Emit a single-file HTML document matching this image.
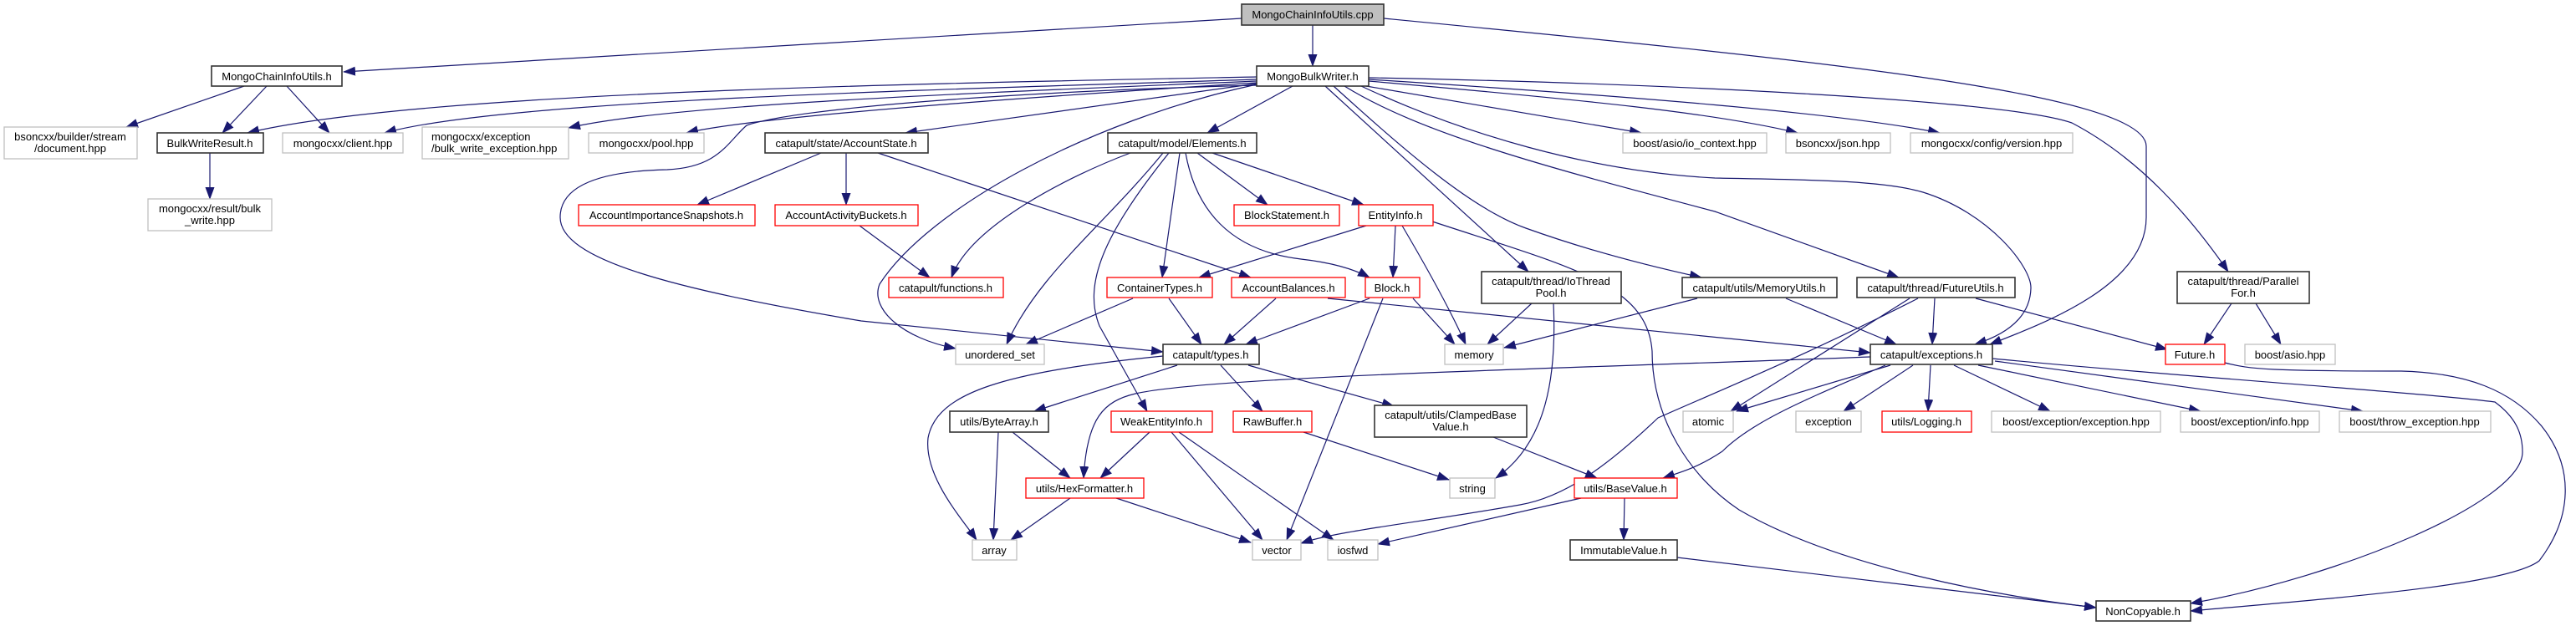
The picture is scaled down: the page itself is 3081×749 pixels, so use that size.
<!DOCTYPE html>
<html><head><meta charset="utf-8"><style>
html,body{margin:0;padding:0;background:#fff;}
svg{display:block;}
text{font-family:"Liberation Sans",Arial,sans-serif;font-size:13px;fill:#000;text-anchor:middle;}
.b{fill:#fff;stroke:#333;stroke-width:1.6;}
.g{fill:#fff;stroke:#bfbfbf;stroke-width:1.3;}
.r{fill:#fff;stroke:#ff0000;stroke-width:1.3;}
.c{fill:#bfbfbf;stroke:#333;stroke-width:1.6;}
path.e{fill:none;stroke:#191970;stroke-width:1.2;marker-end:url(#a);}
</style></head><body>
<svg width="3081" height="749" viewBox="0 0 3081 749" xmlns="http://www.w3.org/2000/svg">
<defs><marker id="a" markerWidth="15" markerHeight="11" refX="14" refY="5.5" orient="auto" markerUnits="userSpaceOnUse"><path d="M0,0 L15,5.5 L0,11 z" fill="#191970"/></marker></defs>
<g>
<path class="e" d="M1485,22 L411,86"/>
<path class="e" d="M1570,30 L1570,79"/>
<path class="e" d="M1655,22 C2150,70 2567,110 2567,175 L2567,260 C2567,340 2450,385 2380,412"/>
<path class="e" d="M292,103 L151,152"/>
<path class="e" d="M319,103 L266,159"/>
<path class="e" d="M343,103 L394,159"/>
<path class="e" d="M251,183 L251,238"/>
<path class="e" d="M1503,92 C1100,100 500,110 296,159"/>
<path class="e" d="M1503,95 C1100,108 600,120 460,159"/>
<path class="e" d="M1503,97 C1150,112 800,125 680,153"/>
<path class="e" d="M1503,99 C1200,118 900,140 821,159"/>
<path class="e" d="M1503,100 L1083,159"/>
<path class="e" d="M1503,101 C1300,145 1110,250 1052,340 C1040,370 1080,405 1143,417"/>
<path class="e" d="M1503,102 C1200,110 950,130 893,150 C870,170 860,200 798,203 C700,205 670,230 670,260 C670,310 800,345 1030,384 L1391,421"/>
<path class="e" d="M1546,103 L1444,159"/>
<path class="e" d="M1585,103 L1828,325"/>
<path class="e" d="M1595,103 C1680,180 1760,250 1825,273 C1900,300 1980,320 2035,332"/>
<path class="e" d="M1608,103 C1700,160 1850,200 2051,253 L2271,332"/>
<path class="e" d="M1628,103 C1750,160 1900,205 2051,213 C2150,215 2250,215 2300,230 C2380,255 2430,320 2429,345 C2428,380 2400,400 2362,412"/>
<path class="e" d="M1634,103 L1963,159"/>
<path class="e" d="M1637,97 C1900,120 2050,135 2150,159"/>
<path class="e" d="M1637,95 C1950,115 2200,135 2320,159"/>
<path class="e" d="M1637,93 C2000,100 2400,120 2478,147 C2560,190 2620,260 2665,325"/>
<path class="e" d="M1352,183 C1280,210 1160,270 1138,332"/>
<path class="e" d="M1391,183 C1320,270 1240,330 1204,412"/>
<path class="e" d="M1398,183 C1320,280 1295,340 1315,390 L1372,492"/>
<path class="e" d="M1411,183 L1390,332"/>
<path class="e" d="M1418,183 C1430,250 1470,300 1556,310 C1600,315 1625,325 1638,332"/>
<path class="e" d="M1432,183 L1516,245"/>
<path class="e" d="M1450,183 L1631,245"/>
<path class="e" d="M982,183 L834,245"/>
<path class="e" d="M1012,183 L1012,245"/>
<path class="e" d="M1050,183 L1496,332"/>
<path class="e" d="M1028,270 L1112,332"/>
<path class="e" d="M1634,270 L1434,332"/>
<path class="e" d="M1669,270 L1666,332"/>
<path class="e" d="M1677,270 Q1730,360 1753,412"/>
<path class="e" d="M1713,265 C1880,320 1970,340 1976,420 C1976,500 2020,570 2080,610 C2200,680 2400,715 2507,727"/>
<path class="e" d="M1638,357 L1490,412"/>
<path class="e" d="M1654,357 L1539,646"/>
<path class="e" d="M1690,357 L1740,412"/>
<path class="e" d="M1355,357 L1227,412"/>
<path class="e" d="M1398,357 L1437,412"/>
<path class="e" d="M1526,357 L1464,412"/>
<path class="e" d="M1588,357 L2237,422"/>
<path class="e" d="M1832,363 L1779,412"/>
<path class="e" d="M1858,363 C1862,450 1850,530 1789,572"/>
<path class="e" d="M2030,357 L1799,416"/>
<path class="e" d="M2136,357 L2268,412"/>
<path class="e" d="M2284,357 L2070,492"/>
<path class="e" d="M2294,357 C2150,430 2050,470 1983,500 C1920,560 1870,595 1818,604 C1700,625 1600,635 1556,650"/>
<path class="e" d="M2314,357 L2311,412"/>
<path class="e" d="M2363,357 L2592,418"/>
<path class="e" d="M2669,363 L2636,412"/>
<path class="e" d="M2698,363 L2728,412"/>
<path class="e" d="M2661,434 C2690,442 2720,444 2872,444 C2950,446 3004,467 3040,510 C3080,560 3076,620 3037,671 C3000,700 2800,715 2620,731"/>
<path class="e" d="M2383,429 C2600,450 2900,470 2984,481 C3010,500 3017,520 3017,541 C3017,600 2800,690 2620,722"/>
<path class="e" d="M2386,432 L2826,492"/>
<path class="e" d="M2366,437 L2632,492"/>
<path class="e" d="M2337,437 L2452,492"/>
<path class="e" d="M2309,437 L2306,492"/>
<path class="e" d="M2288,437 L2205,492"/>
<path class="e" d="M2261,437 L2077,492"/>
<path class="e" d="M2255,437 C2180,470 2100,500 2060,540 C2030,560 2010,565 1989,572"/>
<path class="e" d="M2237,427 C1900,440 1450,450 1358,471 C1320,480 1300,500 1296,572"/>
<path class="e" d="M1391,426 C1200,445 1120,470 1110,524 C1105,570 1150,620 1168,646"/>
<path class="e" d="M1408,437 L1237,492"/>
<path class="e" d="M1460,437 L1510,492"/>
<path class="e" d="M1493,437 L1667,486"/>
<path class="e" d="M1194,517 L1188,646"/>
<path class="e" d="M1211,517 L1280,572"/>
<path class="e" d="M1375,517 L1316,572"/>
<path class="e" d="M1401,517 L1510,646"/>
<path class="e" d="M1410,517 L1595,646"/>
<path class="e" d="M1559,517 L1733,574"/>
<path class="e" d="M1786,523 L1910,572"/>
<path class="e" d="M1280,596 L1209,646"/>
<path class="e" d="M1335,596 L1496,649"/>
<path class="e" d="M1891,596 L1648,651"/>
<path class="e" d="M1943,596 L1942,646"/>
<path class="e" d="M2006,667 L2507,727"/>
</g>
<g>
<rect class="c" x="1485" y="5" width="170" height="25"/><text x="1570" y="22">MongoChainInfoUtils.cpp</text>
<rect class="b" x="253" y="79" width="156" height="24"/><text x="331" y="96">MongoChainInfoUtils.h</text>
<rect class="b" x="1503" y="79" width="134" height="24"/><text x="1570" y="96">MongoBulkWriter.h</text>
<rect class="g" x="5" y="152" width="159" height="38"/><text x="84" y="168">bsoncxx/builder/stream</text><text x="84" y="182">/document.hpp</text>
<rect class="b" x="188" y="159" width="127" height="24"/><text x="251" y="176">BulkWriteResult.h</text>
<rect class="g" x="338" y="159" width="144" height="24"/><text x="410" y="176">mongocxx/client.hpp</text>
<rect class="g" x="505" y="152" width="175" height="38"/><text x="516" y="168" style="text-anchor:start">mongocxx/exception</text><text x="516" y="182" style="text-anchor:start">/bulk_write_exception.hpp</text>
<rect class="g" x="704" y="159" width="138" height="24"/><text x="773" y="176">mongocxx/pool.hpp</text>
<rect class="b" x="915" y="159" width="195" height="24"/><text x="1012" y="176">catapult/state/AccountState.h</text>
<rect class="b" x="1325" y="159" width="178" height="24"/><text x="1414" y="176">catapult/model/Elements.h</text>
<rect class="g" x="1941" y="159" width="172" height="24"/><text x="2027" y="176">boost/asio/io_context.hpp</text>
<rect class="g" x="2136" y="159" width="125" height="24"/><text x="2198" y="176">bsoncxx/json.hpp</text>
<rect class="g" x="2285" y="159" width="194" height="24"/><text x="2382" y="176">mongocxx/config/version.hpp</text>
<rect class="g" x="177" y="238" width="148" height="38"/><text x="251" y="254">mongocxx/result/bulk</text><text x="251" y="268">_write.hpp</text>
<rect class="r" x="692" y="245" width="211" height="25"/><text x="797" y="262">AccountImportanceSnapshots.h</text>
<rect class="r" x="927" y="245" width="171" height="25"/><text x="1012" y="262">AccountActivityBuckets.h</text>
<rect class="r" x="1476" y="245" width="126" height="25"/><text x="1539" y="262">BlockStatement.h</text>
<rect class="r" x="1625" y="245" width="89" height="25"/><text x="1669" y="262">EntityInfo.h</text>
<rect class="r" x="1063" y="332" width="137" height="24"/><text x="1131" y="349">catapult/functions.h</text>
<rect class="r" x="1324" y="332" width="126" height="24"/><text x="1387" y="349">ContainerTypes.h</text>
<rect class="r" x="1473" y="332" width="136" height="24"/><text x="1541" y="349">AccountBalances.h</text>
<rect class="r" x="1633" y="332" width="65" height="24"/><text x="1665" y="349">Block.h</text>
<rect class="b" x="1772" y="325" width="167" height="38"/><text x="1855" y="341">catapult/thread/IoThread</text><text x="1855" y="355">Pool.h</text>
<rect class="b" x="2012" y="332" width="185" height="24"/><text x="2104" y="349">catapult/utils/MemoryUtils.h</text>
<rect class="b" x="2221" y="332" width="189" height="24"/><text x="2315" y="349">catapult/thread/FutureUtils.h</text>
<rect class="b" x="2604" y="325" width="158" height="38"/><text x="2683" y="341">catapult/thread/Parallel</text><text x="2683" y="355">For.h</text>
<rect class="g" x="1143" y="412" width="106" height="24"/><text x="1196" y="429">unordered_set</text>
<rect class="b" x="1391" y="412" width="115" height="24"/><text x="1448" y="429">catapult/types.h</text>
<rect class="g" x="1728" y="412" width="70" height="24"/><text x="1763" y="429">memory</text>
<rect class="b" x="2237" y="412" width="146" height="24"/><text x="2310" y="429">catapult/exceptions.h</text>
<rect class="r" x="2590" y="412" width="71" height="24"/><text x="2625" y="429">Future.h</text>
<rect class="g" x="2685" y="412" width="108" height="24"/><text x="2739" y="429">boost/asio.hpp</text>
<rect class="b" x="1136" y="492" width="118" height="25"/><text x="1195" y="509">utils/ByteArray.h</text>
<rect class="r" x="1329" y="492" width="121" height="25"/><text x="1389" y="509">WeakEntityInfo.h</text>
<rect class="r" x="1475" y="492" width="94" height="25"/><text x="1522" y="509">RawBuffer.h</text>
<rect class="b" x="1644" y="485" width="182" height="38"/><text x="1735" y="501">catapult/utils/ClampedBase</text><text x="1735" y="515">Value.h</text>
<rect class="g" x="2013" y="492" width="60" height="25"/><text x="2043" y="509">atomic</text>
<rect class="g" x="2148" y="492" width="78" height="25"/><text x="2187" y="509">exception</text>
<rect class="r" x="2251" y="492" width="107" height="25"/><text x="2304" y="509">utils/Logging.h</text>
<rect class="g" x="2382" y="492" width="202" height="25"/><text x="2483" y="509">boost/exception/exception.hpp</text>
<rect class="g" x="2608" y="492" width="166" height="25"/><text x="2691" y="509">boost/exception/info.hpp</text>
<rect class="g" x="2798" y="492" width="181" height="25"/><text x="2888" y="509">boost/throw_exception.hpp</text>
<rect class="r" x="1227" y="572" width="141" height="24"/><text x="1297" y="589">utils/HexFormatter.h</text>
<rect class="g" x="1734" y="572" width="54" height="24"/><text x="1761" y="589">string</text>
<rect class="r" x="1883" y="572" width="123" height="24"/><text x="1944" y="589">utils/BaseValue.h</text>
<rect class="g" x="1163" y="646" width="53" height="24"/><text x="1189" y="663">array</text>
<rect class="g" x="1498" y="646" width="58" height="24"/><text x="1527" y="663">vector</text>
<rect class="g" x="1588" y="646" width="60" height="24"/><text x="1618" y="663">iosfwd</text>
<rect class="b" x="1878" y="646" width="128" height="24"/><text x="1942" y="663">ImmutableValue.h</text>
<rect class="b" x="2507" y="719" width="113" height="24"/><text x="2563" y="736">NonCopyable.h</text>
</g>
</svg>
</body></html>
